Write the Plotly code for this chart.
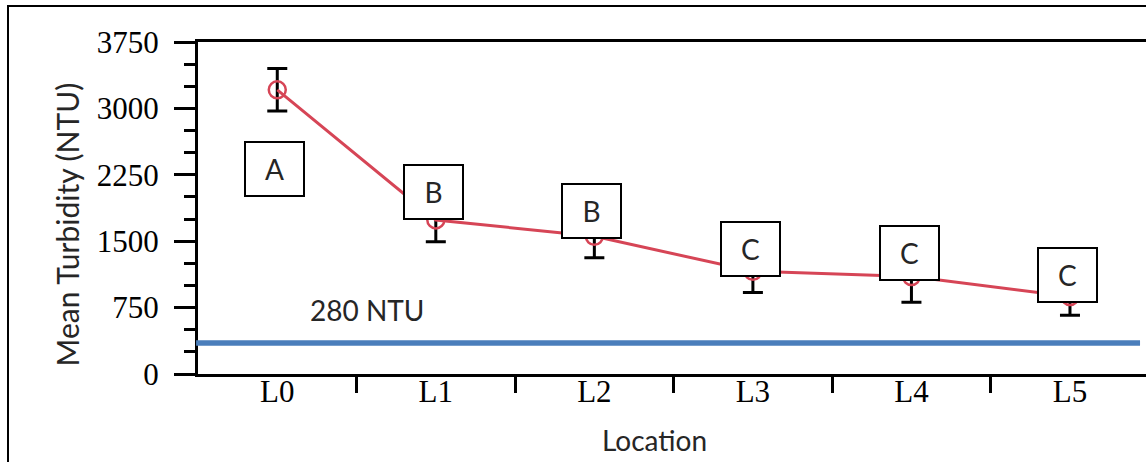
import plotly.graph_objects as go

# ---- data ----
locations = ["L0", "L1", "L2", "L3", "L4", "L5"]
mean_turbidity = [3210, 1740, 1555, 1160, 1100, 875]
error = [240, 245, 242, 240, 290, 210]
group_letters = ["A", "B", "B", "C", "C", "C"]
letter_y = [2316, 2056, 1841, 1412, 1372, 1113]
threshold_value = 350
threshold_label = "280 NTU"
y_ticks = [0, 750, 1500, 2250, 3000, 3750]

W, H = 1146, 462
L, T, B = 198, 42, 88
plot_w = W - L
plot_h = H - T - B

x_idx = list(range(len(locations)))
SANS = "Lato"
SERIF = "Liberation Serif"
TXT = "#262626"

fig = go.Figure()
fig.add_trace(go.Scatter(
    x=x_idx, y=mean_turbidity, mode="lines+markers",
    line=dict(color="#d64556", width=3),
    marker=dict(symbol="circle-open", size=17, color="#d64556", line=dict(width=2.5, color="#d64556")),
    error_y=dict(type="data", array=error, visible=True, color="black", thickness=3, width=10),
    showlegend=False, cliponaxis=False,
))

# threshold line
fig.add_shape(type="line", xref="x domain", yref="y", x0=-0.002, x1=0.9937,
              y0=threshold_value, y1=threshold_value,
              line=dict(color="#4a7ebb", width=5.5), layer="above")

annotations = []
for i, (lt, ly) in enumerate(zip(group_letters, letter_y)):
    annotations.append(dict(
        x=i - 0.015, y=ly, xref="x", yref="y", text=lt, showarrow=False,
        font=dict(family=SANS, size=28, color=TXT),
        bgcolor="white", bordercolor="black", borderwidth=2, borderpad=1,
        width=55, height=50, align="center", valign="middle",
    ))
annotations.append(dict(
    x=(367 - 277.5) / 158.5, y=723, xref="x", yref="y", text=threshold_label,
    showarrow=False, font=dict(family=SANS, size=28, color=TXT)))
annotations.append(dict(
    x=(654.5 - L) / plot_w, y=(374 - 440) / plot_h, xref="paper", yref="paper",
    text="Location", showarrow=False, xanchor="center", yanchor="middle",
    font=dict(family=SANS, size=28, color=TXT)))
annotations.append(dict(
    x=(67 - L) / plot_w, y=(374 - 224.5) / plot_h, xref="paper", yref="paper",
    text="Mean Turbidity (NTU)", textangle=-90, showarrow=False,
    xanchor="center", yanchor="middle",
    font=dict(family=SANS, size=30, color=TXT)))

# outer frame
fig.add_shape(type="rect", xref="paper", yref="paper",
              x0=(8 - L) / plot_w, x1=(1200 - L) / plot_w,
              y0=(374 - 520) / plot_h, y1=(374 - 6) / plot_h,
              line=dict(color="black", width=2), fillcolor="rgba(0,0,0,0)", layer="above")

fig.update_layout(
    width=W, height=H,
    margin=dict(l=L, r=0, t=T, b=B, pad=0),
    paper_bgcolor="white", plot_bgcolor="white",
    annotations=annotations,
    xaxis=dict(
        range=[-0.5, (W - 277.5) / 158.5 - 0.0],
        tickvals=x_idx, ticktext=locations, ticks="", ticklen=0, showgrid=False, zeroline=False,
        showline=True, linecolor="black", linewidth=3, mirror=True,
        tickfont=dict(family=SERIF, size=31, color="black"),
        minor=dict(tickvals=[i + 0.5 for i in x_idx[:-1]], ticks="outside", ticklen=16,
                   tickwidth=3, tickcolor="black", showgrid=False),
        ticklabelstandoff=-12,
    ),
    yaxis=dict(
        range=[0, 3750], tickvals=y_ticks, ticks="outside", ticklen=21, tickwidth=3,
        tickcolor="black", showgrid=False, zeroline=False,
        showline=True, linecolor="black", linewidth=3,
        tickfont=dict(family=SERIF, size=31, color="black"),
        minor=dict(dtick=250, ticks="outside", ticklen=11, tickwidth=3, tickcolor="black", showgrid=False),
        ticklabelstandoff=9,
    ),
)

fig.write_html("out.html")
